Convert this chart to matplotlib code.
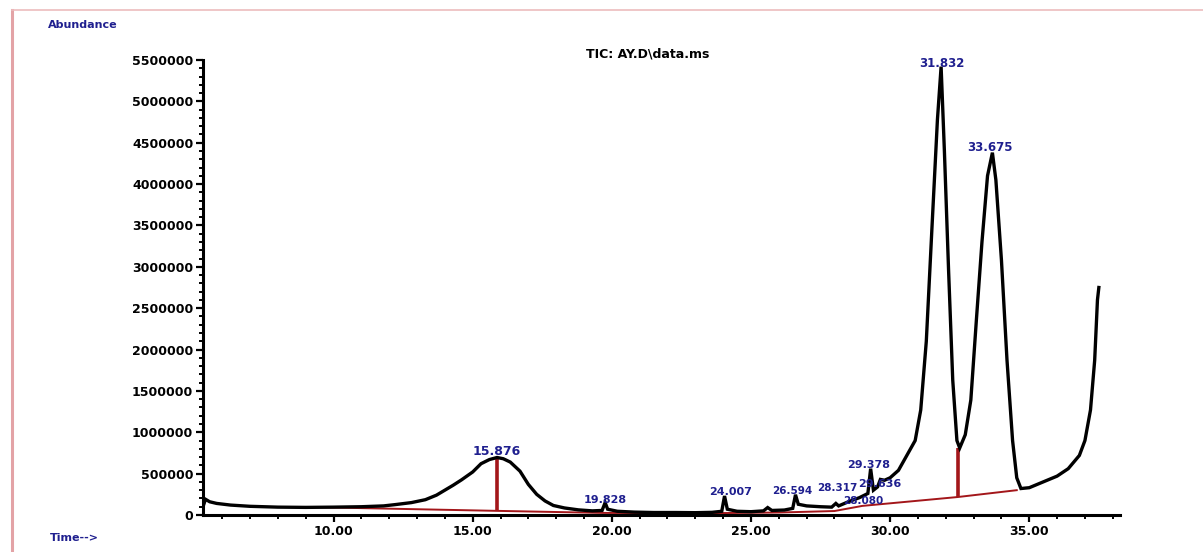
"""
TIC chromatogram redraw - plot.py
Trace, integration baseline and peak labels read off the scanned report.
"""

import matplotlib
matplotlib.use("Agg")
import matplotlib.pyplot as plt
from matplotlib.lines import Line2D
from matplotlib.ticker import MultipleLocator, FixedLocator

# ─────────────────────────────────────────────
# 1. DATA  (time in min, abundance in counts)
# ─────────────────────────────────────────────
trace_time = [5.33, 5.40, 5.55, 5.8, 6.3, 7.0, 8.0, 9.0, 10.0, 11.0, 11.8, 12.2,
              12.8, 13.3, 13.7, 14.0, 14.3, 14.6, 15.0, 15.3, 15.6, 15.876, 16.1,
              16.35, 16.7, 17.0, 17.3, 17.6, 17.9, 18.3, 18.8, 19.3, 19.65, 19.76,
              19.85, 20.2, 20.8, 21.5, 22.3, 23.0, 23.6, 23.95, 24.05, 24.15, 24.5,
              25.0, 25.45, 25.6, 25.75, 26.2, 26.5, 26.6, 26.7, 27.0, 27.5, 27.9,
              28.05, 28.15, 28.5, 28.9, 29.2, 29.3, 29.4, 29.55, 29.65, 29.8, 30.0,
              30.3, 30.6, 30.9, 31.1, 31.3, 31.5, 31.7, 31.832, 31.95, 32.1, 32.25,
              32.4, 32.5, 32.7, 32.9, 33.1, 33.3, 33.5, 33.675, 33.8, 34.0, 34.2,
              34.4, 34.55, 34.7, 35.0, 35.5, 36.0, 36.4, 36.8, 37.0, 37.2, 37.35,
              37.45, 37.5]
trace_abund = [120000, 190000, 160000, 140000, 120000, 105000, 95000, 92000, 95000,
               100000, 110000, 125000, 150000, 185000, 240000, 300000, 360000,
               425000, 520000, 620000, 670000, 695000, 680000, 640000, 530000,
               370000, 250000, 170000, 115000, 85000, 62000, 50000, 55000, 150000,
               70000, 45000, 35000, 30000, 30000, 28000, 32000, 45000, 230000,
               70000, 45000, 40000, 50000, 90000, 55000, 60000, 80000, 245000,
               130000, 110000, 100000, 95000, 140000, 110000, 160000, 210000,
               260000, 560000, 300000, 340000, 430000, 420000, 450000, 540000,
               720000, 900000, 1270000, 2100000, 3450000, 4780000, 5420000,
               4400000, 2960000, 1630000, 900000, 810000, 970000, 1390000, 2360000,
               3300000, 4100000, 4380000, 4050000, 3080000, 1870000, 900000,
               450000, 320000, 330000, 400000, 470000, 560000, 720000, 900000,
               1270000, 1870000, 2600000, 2750000]

# integration baseline (red)
base_time  = [9.0, 15.876, 19.7, 23.5, 26.0, 28.0, 29.0, 32.45, 34.55]
base_abund = [97000, 50000, 25000, 22000, 30000, 48000, 110000, 218000, 300000]

# drop lines at split points: (time, bottom, top)
drop_time   = [15.876, 32.45]
drop_bottom = [50000, 218000]
drop_top    = [695000, 810000]

# peak labels as printed, with their anchor in data units
peak_labels = ["15.876", "19.828", "24.007", "26.594", "28.317", "28.080",
               "29.378", "29.636", "31.832", "33.675"]
label_time  = [15.876, 19.76, 24.25, 26.5, 28.12, 29.03, 29.24, 29.64, 31.87, 33.59]
label_abund = [762000, 181000, 278000, 290000, 325000, 165000, 605000, 375000,
               5460000, 4440000]
label_size  = [9, 8, 8, 7.5, 7.5, 7.5, 8, 8, 8.5, 8.5]

x_major = [10, 15, 20, 25, 30, 35]
y_major = list(range(0, 5500001, 500000))

# ─────────────────────────────────────────────
# 2. FIGURE
# ─────────────────────────────────────────────
BLUE = "#1f1f8f"
RED  = "#a3161a"

fig = plt.figure(figsize=(12.03, 5.52), dpi=100)
ax = fig.add_axes([203 / 1203, 1 - 515 / 552, (1120 - 203) / 1203, (515 - 60) / 552])

ax.plot(base_time, base_abund, color=RED, lw=1.4, zorder=2)
ax.vlines(drop_time, drop_bottom, drop_top, color=RED, lw=2.6, zorder=2)
ax.plot(trace_time, trace_abund, color="black", lw=2.4, zorder=3,
        solid_joinstyle="miter")

for lab, t, a, fs in zip(peak_labels, label_time, label_abund, label_size):
    ax.text(t, a, lab, color=BLUE, fontsize=fs, fontweight="bold",
            ha="center", va="center", zorder=4, clip_on=False)

ax.set_xlim(5.31, 38.26)
ax.set_ylim(0, 5500000)

# — axes look —
for s in ["top", "right"]:
    ax.spines[s].set_visible(False)
for s in ["left", "bottom"]:
    ax.spines[s].set_linewidth(2.2)

ax.xaxis.set_major_locator(FixedLocator(x_major))
ax.xaxis.set_minor_locator(MultipleLocator(1))
ax.set_xticklabels([f"{v:.2f}" for v in x_major])
ax.yaxis.set_major_locator(FixedLocator(y_major))
ax.yaxis.set_minor_locator(MultipleLocator(100000))
ax.set_yticklabels([str(v) for v in y_major])

ax.tick_params(axis="both", which="major", direction="out", length=5, width=1.6,
               labelsize=9, pad=2)
ax.tick_params(axis="both", which="minor", direction="out", length=3, width=1.4)
for lab in ax.get_xticklabels() + ax.get_yticklabels():
    lab.set_fontweight("bold")

# — header / footer text —
fig.text(648 / 1203, 1 - 54 / 552, "TIC: AY.D\\data.ms", ha="center", va="center",
         fontsize=9, fontweight="bold", color="black")
fig.text(48 / 1203, 1 - 25 / 552, "Abundance", ha="left", va="center",
         fontsize=8, fontweight="bold", color=BLUE)
fig.text(50 / 1203, 1 - 538 / 552, "Time-->", ha="left", va="center",
         fontsize=8, fontweight="bold", color=BLUE)

# — pink page frame of the scanned report —
fig.add_artist(Line2D([12 / 1203, 12 / 1203], [0, 1 - 10 / 552],
                      transform=fig.transFigure, color="#e3a3a6", lw=2.2))
fig.add_artist(Line2D([12 / 1203, 1], [1 - 10 / 552, 1 - 10 / 552],
                      transform=fig.transFigure, color="#ecbcbe", lw=1.2))

fig.savefig("out.png", dpi=100)
plt.close(fig)
